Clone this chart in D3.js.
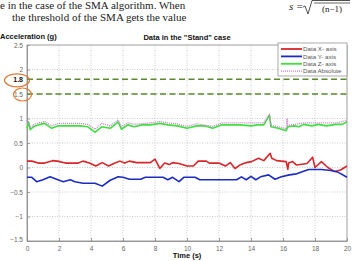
<!DOCTYPE html>
<html>
<head>
<meta charset="utf-8">
<script src="https://cdn.jsdelivr.net/npm/d3@7"></script>
<style>
  body { margin: 0; background: #fff; }
  svg { display: block; }
  .tick text { font-family: 'Liberation Sans', Arial, sans-serif; font-size: 6.5px; fill: #666; }
  .prose { font-family: 'Liberation Serif', 'Times New Roman', serif; font-size: 11px; fill: #222; }
  .bold { font-family: 'Liberation Sans', Arial, sans-serif; font-weight: bold; fill: #111; }
  .legend text { font-family: 'Liberation Sans', Arial, sans-serif; font-size: 6.2px; fill: #555; }
</style>
</head>
<body>
<div id="chart"></div>
<script>
// Data: [time (s), acceleration (g)]
const dataX = [[0,0.13],[0.3,0.13],[0.7,0.09],[1.1,0.09],[1.6,0.14],[1.9,0.13],[2.4,0.09],[3.2,0.09],[3.5,0.13],[3.9,0.09],[4.3,0.03],[4.7,0.1],[5.1,0.03],[5.5,0.09],[5.8,0.13],[6.1,0.09],[6.4,0.13],[6.85,0.1],[7.7,0.1],[8.0,0.17],[8.3,-0.02],[8.6,0.09],[8.9,0.06],[9.1,0.1],[9.5,0.08],[10,0.03],[10.4,0.03],[10.7,0.13],[11.2,0.13],[11.4,0.09],[12,0.09],[12.4,0.03],[12.7,0.1],[13,-0.02],[13.3,0.05],[13.7,0.1],[14.04,0.12],[14.46,0.19],[14.8,0.14],[15.2,0.29],[15.3,0.19],[15.6,0.14],[16.2,0.12],[16.3,-0.04],[16.35,0.09],[16.6,0.12],[16.85,0.05],[17.5,0.08],[17.85,0.21],[18.0,0],[18.4,0.12],[18.8,0],[19.2,-0.08],[19.6,-0.05],[20,0.03]];
const dataY = [[0,-0.2],[0.3,-0.2],[0.6,-0.29],[1.0,-0.25],[1.44,-0.19],[1.85,-0.24],[2.27,-0.29],[2.7,-0.25],[3.0,-0.29],[3.5,-0.32],[4.25,-0.32],[4.7,-0.38],[5.2,-0.26],[5.7,-0.19],[6.0,-0.2],[6.4,-0.24],[7.1,-0.24],[7.4,-0.2],[8.5,-0.2],[8.8,-0.25],[9.1,-0.2],[9.5,-0.29],[9.8,-0.2],[10.5,-0.2],[10.8,-0.25],[13.1,-0.25],[13.4,-0.19],[13.7,-0.25],[14.0,-0.18],[14.3,-0.25],[14.6,-0.19],[15.1,-0.15],[15.5,-0.24],[15.9,-0.19],[16.4,-0.15],[16.85,-0.13],[17.6,-0.04],[18.4,-0.04],[19.0,-0.06],[19.4,-0.09],[20,-0.2]];
const dataZ = [[0,0.8],[0.1,0.93],[0.2,0.77],[0.4,0.83],[0.7,0.87],[1.1,0.9],[1.54,0.8],[1.96,0.85],[2.5,0.85],[3.3,0.85],[3.8,0.83],[4.25,0.72],[4.67,0.83],[5.2,0.8],[5.7,0.93],[5.9,0.78],[6.3,0.87],[6.7,0.83],[7.2,0.87],[7.7,0.87],[8.3,0.9],[8.8,0.87],[9.4,0.85],[10,0.8],[10.6,0.85],[11.1,0.85],[11.6,0.8],[12.2,0.87],[13.3,0.87],[14.0,0.85],[14.4,0.87],[14.8,0.87],[15.15,1.07],[15.25,0.83],[15.7,0.8],[16.2,0.75],[16.3,0.83],[16.7,0.85],[17.0,0.83],[17.3,0.88],[17.8,0.85],[18.2,0.88],[18.7,0.85],[19.3,0.88],[19.7,0.88],[20,0.93]];
const dataAbs = [[0,0.97],[0.2,0.82],[0.4,0.87],[0.7,0.91],[1.1,0.94],[1.54,0.85],[1.96,0.9],[3.3,0.9],[3.8,0.88],[4.25,0.78],[4.67,0.9],[5.2,0.85],[5.7,0.97],[5.9,0.83],[6.3,0.91],[6.7,0.88],[7.7,0.91],[8.3,0.94],[8.8,0.91],[9.4,0.89],[10,0.84],[10.6,0.89],[11.6,0.84],[12.2,0.91],[13.3,0.91],[14.4,0.91],[14.8,0.91],[15.15,1.09],[15.25,0.86],[15.7,0.83],[16.2,0.79],[16.25,1.0],[16.3,0.86],[17.3,0.91],[18.2,0.91],[19.3,0.91],[20,0.96]];

const thresholds = [1.8, 1.5];
const xTicks = [0, 2, 4, 6, 8, 10, 12, 14, 16, 18, 20];
const yTicks = [-1.5, -1, -0.5, 0, 0.5, 1, 1.5, 2, 2.5];
const seriesNames = ['Data X- axis', 'Data Y- axis', 'Data Z- axis', 'Data Absolute'];
const seriesColors = ['#d8262a', '#1c2cc0', '#3ee03e', '#cc7acc'];

const W = 362, H = 261;
const margin = { l: 27, r: 15, t: 45, b: 20 };
const width = W - margin.l - margin.r;
const height = H - margin.t - margin.b;

const root = d3.select('#chart').append('svg').attr('width', W).attr('height', H);

// bits of the page text around the figure
root.append('text').attr('class', 'prose').attr('x', 0).attr('y', 9).text('e in the case of the SMA algorithm. When');
root.append('text').attr('class', 'prose').attr('x', 12).attr('y', 21).text('the threshold of the SMA gets the value');
root.append('text').attr('class', 'prose').attr('x', 289).attr('y', 10).style('font-style', 'italic').text('s =');
root.append('path').attr('d', 'M303,7 L305,6 L308,14 L312,0.5 L350,0.5').attr('fill', 'none').attr('stroke', '#222').attr('stroke-width', 0.8);
root.append('line').attr('x1', 314).attr('x2', 350).attr('y1', 3).attr('y2', 3).attr('stroke', '#222').attr('stroke-width', 0.7);
root.append('text').attr('class', 'prose').attr('x', 322).attr('y', 12).style('font-size', '9px').text('(n\u22121)');

const svg = root.append('g').attr('transform', `translate(${margin.l}, ${margin.t})`);

const x = d3.scaleLinear([0, 20], [0, width]);
const y = d3.scaleLinear([-1.5, 2.5], [height, 0]);

// grid
svg.append('g').selectAll('line').data(xTicks.slice(1, -1)).join('line')
  .attr('x1', (d) => x(d)).attr('x2', (d) => x(d)).attr('y1', 0).attr('y2', height)
  .attr('stroke', '#aaa').attr('stroke-width', 0.6).attr('stroke-dasharray', '1,1.5');
svg.append('g').selectAll('line').data(yTicks.slice(1, -1)).join('line')
  .attr('y1', (d) => y(d)).attr('y2', (d) => y(d)).attr('x1', 0).attr('x2', width)
  .attr('stroke', '#aaa').attr('stroke-width', 0.6).attr('stroke-dasharray', '1,1.5');

// axes
const xAxis = svg.append('g').attr('transform', `translate(0, ${height})`)
  .call(d3.axisBottom(x).tickValues(xTicks).tickSize(-3).tickPadding(5).tickSizeOuter(0));
const yAxis = svg.append('g')
  .call(d3.axisLeft(y).tickValues(yTicks).tickFormat(d3.format('')).tickSize(-3).tickPadding(4).tickSizeOuter(0));
[xAxis, yAxis].forEach((a) => {
  a.selectAll('.domain, line').attr('stroke', '#888').attr('stroke-width', 0.8);
});
yAxis.selectAll('.tick text').attr('dy', (d) => (d === -1.5 ? '0.1em' : '0.32em'));
svg.append('rect').attr('width', width).attr('height', height)
  .attr('fill', 'none').attr('stroke', '#888').attr('stroke-width', 0.8);

// threshold lines
svg.append('g').selectAll('line').data(thresholds).join('line')
  .attr('x1', 0).attr('x2', width).attr('y1', (d) => y(d)).attr('y2', (d) => y(d))
  .attr('stroke', '#5a8a2e').attr('stroke-width', 1.4).attr('stroke-dasharray', '6,3.5');

// series
const line = d3.line().x((d) => x(d[0])).y((d) => y(d[1]));
const series = [dataX, dataY, dataZ, dataAbs];
series.forEach((s, i) => {
  svg.append('path').datum(s).attr('d', line)
    .attr('fill', 'none').attr('stroke', seriesColors[i])
    .attr('stroke-width', i === 3 ? 1.3 : 1.6)
    .attr('stroke-dasharray', i === 3 ? '1,1' : null)
    .attr('stroke-linejoin', 'round');
});

// labels
root.append('text').attr('class', 'bold').attr('x', 187).attr('y', 40)
  .attr('text-anchor', 'middle').style('font-size', '7.5px').text('Data in the "Stand" case');
root.append('text').attr('class', 'bold').attr('x', 0).attr('y', 39)
  .style('font-size', '7.5px').text('Acceleration (g)');
root.append('text').attr('class', 'bold').attr('x', 187).attr('y', 258)
  .attr('text-anchor', 'middle').style('font-size', '7.5px').text('Time (s)');

// 1.8 marker and circles
root.append('text').attr('class', 'bold').attr('x', 23).attr('y', margin.t + y(1.8) + 2.5)
  .attr('text-anchor', 'end').style('font-size', '7px').text('1.8');
root.append('ellipse').attr('cx', 17).attr('cy', margin.t + y(1.8) + 1)
  .attr('rx', 12.5).attr('ry', 6.5).attr('fill', 'none').attr('stroke', '#e07b35').attr('stroke-width', 1.2);
root.append('ellipse').attr('cx', 22.5).attr('cy', margin.t + y(1.5) + 0.5)
  .attr('rx', 9).attr('ry', 6.5).attr('fill', 'none').attr('stroke', '#e07b35').attr('stroke-width', 1.2);

// legend
const legend = svg.append('g').attr('class', 'legend').attr('transform', `translate(${width - 69}, -2)`);
legend.append('rect').attr('width', 69).attr('height', 33).attr('fill', '#fff').attr('stroke', '#888').attr('stroke-width', 0.7);
seriesNames.forEach((name, i) => {
  const g = legend.append('g').attr('transform', `translate(0, ${6 + i * 7.4})`);
  g.append('line').attr('x1', 3).attr('x2', 24).attr('stroke', seriesColors[i])
    .attr('stroke-width', i === 3 ? 1.2 : 1.8).attr('stroke-dasharray', i === 3 ? '1,1' : null);
  g.append('text').attr('x', 25).attr('dy', '0.35em').text(name);
});
</script>
</body>
</html>
